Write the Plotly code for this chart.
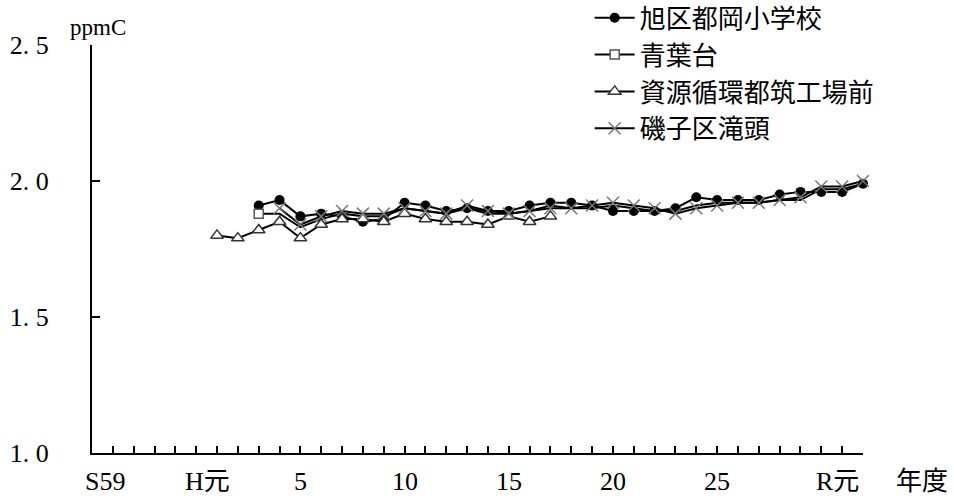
import plotly.graph_objects as go

# Fiscal years (western calendar); S59 = 1984, H元 = 1989, R元 = 2019
years_asahi = list(range(1991, 2021))
asahi = [1.91, 1.93, 1.87, 1.88, 1.87, 1.85, 1.86, 1.92, 1.91, 1.89,
         1.90, 1.89, 1.89, 1.91, 1.92, 1.92, 1.91, 1.89, 1.89, 1.89,
         1.90, 1.94, 1.93, 1.93, 1.93, 1.95, 1.96, 1.96, 1.96, 1.99]

years_aoba = list(range(1991, 2021))
aoba = [1.88, 1.88, 1.83, 1.86, 1.88, 1.87, 1.87, 1.90, 1.89, 1.88,
        1.90, 1.88, 1.88, 1.89, 1.91, 1.90, 1.90, 1.91, 1.90, 1.89,
        1.89, 1.91, 1.92, 1.92, 1.92, 1.93, 1.93, 1.97, 1.97, 1.99]

years_tsuzuki = list(range(1989, 2006))
tsuzuki = [1.80, 1.79, 1.82, 1.85, 1.79, 1.84, 1.86, 1.86, 1.85, 1.88,
           1.86, 1.85, 1.85, 1.84, 1.87, 1.85, 1.87]

years_isogo = list(range(1992, 2021))
isogo = [1.90, 1.84, 1.87, 1.89, 1.88, 1.88, 1.90, 1.89, 1.88, 1.91,
         1.89, 1.88, 1.89, 1.90, 1.90, 1.91, 1.92, 1.91, 1.90, 1.88,
         1.90, 1.91, 1.92, 1.92, 1.93, 1.94, 1.98, 1.98, 2.00]

series_names = ["旭区都岡小学校", "青葉台", "資源循環都筑工場前", "磯子区滝頭"]

x_label_years = [1984, 1989, 1993, 1998, 2003, 2008, 2013, 2019]
x_label_text = ["S59", "H元", "5", "10", "15", "20", "25", "R元"]
y_tick_vals = [1.0, 1.5, 2.0, 2.5]
y_tick_text = ["1. 0", "1. 5", "2. 0", "2. 5"]

FONT = "Liberation Serif, 'Noto Sans CJK JP', serif"
LW = 2

fig = go.Figure()

fig.add_trace(go.Scatter(
    x=years_asahi, y=asahi, name=series_names[0], mode="lines+markers",
    line=dict(color="black", width=LW),
    marker=dict(symbol="circle", size=10, color="black"),
    cliponaxis=False,
))
# 青葉台: line over the whole period, marker only on the first year
fig.add_trace(go.Scatter(
    x=years_aoba, y=aoba, name=series_names[1], mode="lines",
    line=dict(color="black", width=LW), showlegend=False,
    legendgroup="aoba", cliponaxis=False,
))
fig.add_trace(go.Scatter(
    x=years_aoba[:1], y=aoba[:1], name=series_names[1], mode="lines+markers",
    line=dict(color="black", width=LW), legendgroup="aoba",
    marker=dict(symbol="square", size=9, color="white",
                line=dict(color="#555555", width=1.5)),
    cliponaxis=False,
))
fig.add_trace(go.Scatter(
    x=years_tsuzuki, y=tsuzuki, name=series_names[2], mode="lines+markers",
    line=dict(color="black", width=LW),
    marker=dict(symbol="triangle-up", size=11, color="white",
                line=dict(color="#333333", width=1.5)),
    cliponaxis=False,
))
fig.add_trace(go.Scatter(
    x=years_isogo, y=isogo, name=series_names[3], mode="lines+markers",
    line=dict(color="black", width=LW),
    marker=dict(symbol="x-thin", size=12,
                line=dict(color="#777777", width=1.5)),
    cliponaxis=False,
))

annotations = []
label_shift = {"S59": -8, "H元": -10, "R元": -5}
for yr, txt in zip(x_label_years, x_label_text):
    annotations.append(dict(
        x=yr, y=-0.071, xref="x", yref="paper", text=txt, showarrow=False,
        xanchor="center", yanchor="middle", xshift=label_shift.get(txt, 0),
        font=dict(family=FONT, size=26, color="black"),
    ))
annotations.append(dict(
    x=1.076, y=-0.071, xref="paper", yref="paper", text="年度", showarrow=False,
    xanchor="center", yanchor="middle",
    font=dict(family=FONT, size=26, color="black"),
))
annotations.append(dict(
    x=0.0084, y=1.044, xref="paper", yref="paper", text="ppmC", showarrow=False,
    xanchor="center", yanchor="middle",
    font=dict(family=FONT, size=23, color="black"),
))

fig.update_layout(
    width=954, height=502,
    margin=dict(l=92, r=91, t=45, b=49, autoexpand=False),
    paper_bgcolor="white", plot_bgcolor="white",
    font=dict(family=FONT, size=26, color="black"),
    xaxis=dict(
        range=[1983, 2020], tick0=1983, dtick=1, ticks="inside",
        ticklen=7, tickwidth=1.5, tickcolor="black",
        showticklabels=False, showgrid=False, zeroline=False,
        showline=True, linecolor="black", linewidth=2,
    ),
    yaxis=dict(
        range=[1.0, 2.5], tickvals=y_tick_vals, ticktext=y_tick_text,
        ticks="inside", ticklen=8, tickwidth=1.5, tickcolor="black",
        showgrid=False, zeroline=False, showline=True,
        linecolor="black", linewidth=2, ticklabelstandoff=36,
        tickfont=dict(family=FONT, size=26, color="black"),
    ),
    legend=dict(
        x=0.6455, y=1.124, xanchor="left", yanchor="top",
        bgcolor="rgba(0,0,0,0)", borderwidth=0,
        font=dict(family=FONT, size=26, color="black"),
        tracegroupgap=0, itemwidth=40,
    ),
    annotations=annotations,
    showlegend=True,
)

fig.write_html("out.html")
